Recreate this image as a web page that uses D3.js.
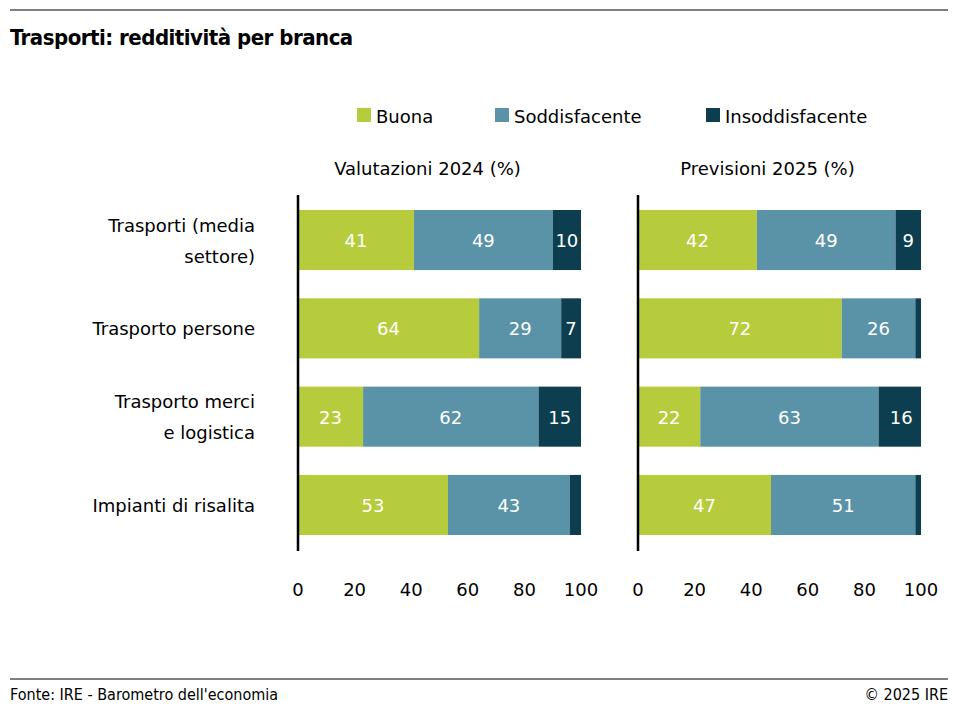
<!DOCTYPE html>
<html><head><meta charset="utf-8">
<script src="https://cdn.jsdelivr.net/npm/d3@7"></script>
<style>body{margin:0;background:#fff}text{font-family:"DejaVu Sans",sans-serif}text.cond{font-family:"DejaVu Sans Condensed",sans-serif}</style>
</head><body><svg id="c" width="961" height="709"></svg>
<script>
// data
const categories = [["Trasporti (media", "settore)"], ["Trasporto persone"], ["Trasporto merci", "e logistica"], ["Impianti di risalita"]];
const seriesNames = ["Buona", "Soddisfacente", "Insoddisfacente"];
const colors = ["#b6cc3c", "#5a93a7", "#0c3e50"];
const valutazioni2024 = [[41, 49, 10], [64, 29, 7], [23, 62, 15], [53, 43, 4]];
const previsioni2025 = [[42, 49, 9], [72, 26, 2], [22, 63, 16], [47, 51, 2]];
const panelTitles = ["Valutazioni 2024 (%)", "Previsioni 2025 (%)"];
const ticks = [0, 20, 40, 60, 80, 100];

const svg = d3.select("#c");
svg.append("line").attr("x1", 10).attr("x2", 948).attr("y1", 10).attr("y2", 10).attr("stroke", "#000");
svg.append("line").attr("x1", 10).attr("x2", 948).attr("y1", 679).attr("y2", 679).attr("stroke", "#000");
svg.append("text").attr("class", "cond").attr("x", 10).attr("y", 45).attr("font-size", 22).attr("font-weight", "bold").attr("letter-spacing", -0.5).text("Trasporti: redditività per branca");
svg.append("text").attr("class", "cond").attr("x", 10).attr("y", 700).attr("font-size", 16).text("Fonte: IRE - Barometro dell'economia");
svg.append("text").attr("class", "cond").attr("x", 948).attr("y", 700).attr("font-size", 16).attr("text-anchor", "end").text("© 2025 IRE");

// legend
const legX = [357, 495, 706];
seriesNames.forEach((s, i) => {
  svg.append("rect").attr("x", legX[i]).attr("y", 108).attr("width", 14).attr("height", 14).attr("fill", colors[i]);
  svg.append("text").attr("x", legX[i] + 19).attr("y", 123).attr("font-size", 18).text(s);
});

const y = d3.scaleBand().domain(d3.range(categories.length)).range([195, 550]).paddingInner(0.32).paddingOuter(0.17);

categories.forEach((c, i) => {
  const t = svg.append("text").attr("x", 255).attr("font-size", 18).attr("text-anchor", "end");
  const cy = y(i) + y.bandwidth() / 2;
  c.forEach((l, j) => t.append("tspan").attr("x", 255).attr("y", cy + 7 + (j - (c.length - 1) / 2) * 31).text(l));
});

[[valutazioni2024, 298], [previsioni2025, 638]].forEach(([data, x0], p) => {
  const x = d3.scaleLinear().domain([0, 100]).range([x0, x0 + 283]).clamp(true);
  const g = svg.append("g");
  g.append("text").attr("x", x(50) - 12).attr("y", 175).attr("font-size", 18).attr("text-anchor", "middle").text(panelTitles[p]);
  data.forEach((row, i) => {
    let acc = 0;
    row.forEach((v, k) => {
      g.append("rect").attr("x", x(acc)).attr("y", y(i)).attr("width", x(acc + v) - x(acc)).attr("height", y.bandwidth()).attr("fill", colors[k]);
      if (v >= 5) g.append("text").attr("x", x(acc + v / 2)).attr("y", y(i) + y.bandwidth() / 2 + 7).attr("text-anchor", "middle").attr("font-size", 18).attr("fill", "#fff").text(v);
      acc += v;
    });
  });
  g.append("line").attr("x1", x(0)).attr("x2", x(0)).attr("y1", 195).attr("y2", 551).attr("stroke", "#000").attr("stroke-width", 2.5);
  ticks.forEach(t => g.append("text").attr("x", x(t)).attr("y", 596).attr("text-anchor", "middle").attr("font-size", 18).text(t));
});
</script></body></html>
